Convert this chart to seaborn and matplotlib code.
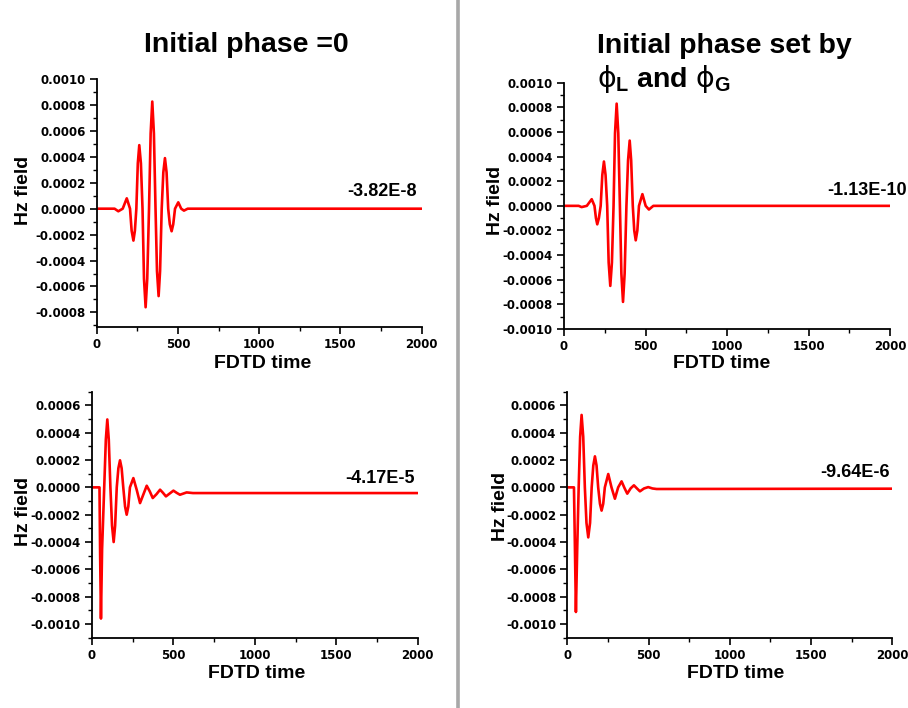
import numpy as np
import matplotlib
matplotlib.use("Agg")
import matplotlib.pyplot as plt
import seaborn as sns
from matplotlib.ticker import AutoMinorLocator, FuncFormatter, MultipleLocator
from matplotlib.lines import Line2D

# ---------------- data ----------------
# top-left: initial phase = 0, source signal
t_tl = [0, 110, 133, 160, 185, 205, 215, 226, 235, 244, 253, 262, 272, 282, 291,
        301, 311, 322, 332, 342, 352, 362, 371, 381, 390, 400, 410, 420, 430,
        440, 450, 461, 471, 482, 502, 520, 537, 560, 2000]
h_tl = [0, 0, -0.00002, 0, 0.00008, 0, -0.00017, -0.000246, -0.00017, 0,
        0.00035, 0.00049, 0.00035, 0, -0.00054, -0.00076, -0.00054, 0, 0.00058,
        0.000826, 0.00058, 0, -0.00048, -0.000674, -0.00048, 0, 0.00028,
        0.00039, 0.00028, 0, -0.00012, -0.000174, -0.00012, 0, 0.000049, 0,
        -0.000015, 0, -3.82e-8]

# top-right: initial phase set by phi_L and phi_G, source signal
t_tr = [0, 90, 108, 140, 170, 187, 196, 204, 214, 225, 235, 245, 255, 265, 274,
        284, 294, 304, 313, 323, 333, 343, 352, 362, 372, 383, 393, 403, 412,
        422, 431, 440, 450, 460, 481, 501, 521, 548, 2000]
h_tr = [0, 0, -0.00001, 0, 0.000054, 0, -0.0001, -0.00015, -0.0001, 0, 0.00025,
        0.00036, 0.00025, 0, -0.00046, -0.00065, -0.00046, 0, 0.00059, 0.00083,
        0.00059, 0, -0.00055, -0.00078, -0.00055, 0, 0.00037, 0.00053, 0.00037,
        0, -0.0002, -0.00028, -0.0002, 0, 0.000095, 0, -0.00003, 0, -1.13e-10]

# bottom-left: initial phase = 0, response
t_bl = [0, 46, 50, 55, 62, 75, 85, 94, 103, 113, 123, 133, 142, 152, 162, 172,
        182, 192, 203, 213, 223, 233, 254, 275, 295, 316, 336, 355, 373, 396,
        418, 436, 454, 477, 500, 520, 540, 581, 620, 2000]
h_bl = [0, 0, -0.0005, -0.00096, -0.00045, 0, 0.00035, 0.000497, 0.00035, 0,
        -0.00028, -0.0004, -0.00028, 0, 0.00014, 0.000198, 0.00014, 0, -0.00014,
        -0.0002, -0.00014, 0, 0.000068, -0.00002, -0.000115, -0.00005, 0.000012,
        -0.00003, -0.000078, -0.00005, -0.000017, -0.00004, -0.000066,
        -0.000045, -0.000024, -0.00004, -0.000054, -0.000037, -0.0000417,
        -0.0000417]

# bottom-right: initial phase set by phi_L and phi_G, response
t_br = [0, 41, 47, 53, 61, 70, 79, 88, 98, 108, 118, 129, 140, 150, 160, 170,
        180, 190, 201, 211, 221, 231, 252, 272, 293, 313, 334, 352, 369, 390,
        410, 428, 447, 472, 498, 524, 550, 2000]
h_br = [0, 0, -0.00045, -0.000912, -0.00045, 0, 0.00037, 0.00053, 0.00037, 0,
        -0.00026, -0.000366, -0.00026, 0, 0.00016, 0.000227, 0.00016, 0,
        -0.00012, -0.00017, -0.00012, 0, 0.0000976, 0, -0.000083, 0, 0.000044,
        -0.000005, -0.000046, -0.000007, 0.000015, -0.000007, -0.000029,
        -0.000008, 0.000002, -0.000008, -0.000012, -0.00000964]

final_labels = ["-3.82E-8", "-1.13E-10", "-4.17E-5", "-9.64E-6"]
titles = ["Initial phase =0", "Initial phase set by"]
x_ticks = [0, 500, 1000, 1500, 2000]

# ---------------- styling ----------------
sns.set_style("ticks")
plt.rcParams["font.family"] = ["Liberation Sans", "DejaVu Sans"]
plt.rcParams["text.color"] = "black"
plt.rcParams["axes.labelcolor"] = "black"
plt.rcParams["xtick.color"] = "black"
plt.rcParams["ytick.color"] = "black"
plt.rcParams["mathtext.fontset"] = "custom"
plt.rcParams["mathtext.rm"] = "Liberation Sans"
plt.rcParams["mathtext.bf"] = "Liberation Sans:bold"
plt.rcParams["mathtext.it"] = "DejaVu Sans"

W, H = 908, 708
fig = plt.figure(figsize=(W / 100, H / 100), dpi=100)


def rect(left, top, right, bottom):
    return [left / W, 1 - bottom / H, (right - left) / W, (bottom - top) / H]


panels = [
    dict(t=t_tl, h=h_tl, pos=rect(96.7, 79, 421.7, 326.7), ylim=(-0.00091, 0.0010),
         yt=(-0.0008, 0.0010), lab=final_labels[0], lx=1972, ly=0.000134,
         xl=(0.509, -0.147), yl=(-73.7 / 325, 0.549)),
    dict(t=t_tr, h=h_tr, pos=rect(564, 82.7, 890, 329), ylim=(-0.0010, 0.0010),
         yt=(-0.0010, 0.0010), lab=final_labels[1], lx=2105, ly=0.000122,
         xl=(0.484, -0.139), yl=(-68 / 326, 0.52)),
    dict(t=t_bl, h=h_bl, pos=rect(92, 391.7, 417.7, 637.7), ylim=(-0.0011, 0.0007),
         yt=(-0.0010, 0.0006), lab=final_labels[2], lx=1983, ly=0.000064,
         xl=(0.506, -0.145), yl=(-69 / 325.7, 0.512)),
    dict(t=t_br, h=h_br, pos=rect(567.3, 391.7, 892.3, 637.7), ylim=(-0.0011, 0.0007),
         yt=(-0.0010, 0.0006), lab=final_labels[3], lx=1986, ly=0.000112,
         xl=(0.5175, -0.145), yl=(-66.6 / 325, 0.533)),
]

fmt = FuncFormatter(lambda v, p: "0.0000" if abs(v) < 1e-10 else f"{v:.4f}")

for p in panels:
    ax = fig.add_axes(p["pos"])
    df = {"t": p["t"], "h": p["h"]}
    sns.lineplot(x="t", y="h", data=df, ax=ax, color="#FF0000", linewidth=1.9,
                 estimator=None, sort=False)
    ax.set_xlim(0, 2000)
    ax.set_ylim(*p["ylim"])
    ax.set_xticks(x_ticks)
    ax.xaxis.set_minor_locator(AutoMinorLocator(2))
    lo, hi = p["yt"]
    n = int(round((hi - lo) / 0.0002)) + 1
    ax.set_yticks([lo + i * 0.0002 for i in range(n)])
    ax.yaxis.set_minor_locator(MultipleLocator(0.0001))
    ax.yaxis.set_major_formatter(fmt)
    ax.tick_params(which="major", direction="out", length=5, width=1.2,
                   labelsize=8.5, pad=3, colors="black")
    ax.tick_params(which="minor", direction="out", length=3, width=1.0)
    for lbl in ax.get_xticklabels() + ax.get_yticklabels():
        lbl.set_fontfamily("DejaVu Sans")
        lbl.set_fontweight("bold")
    sns.despine(ax=ax)
    for s in ("left", "bottom"):
        ax.spines[s].set_linewidth(1.3)
        ax.spines[s].set_color("black")
    ax.set_xlabel("FDTD time", fontsize=14, fontweight="bold")
    ax.set_ylabel("Hz field", fontsize=14, fontweight="bold")
    ax.xaxis.set_label_coords(*p["xl"])
    ax.yaxis.set_label_coords(*p["yl"])
    ax.xaxis.label.set_va("center")
    ax.yaxis.label.set_va("center")
    ax.text(p["lx"], p["ly"], p["lab"], ha="right", va="center", fontsize=13,
            fontweight="bold", clip_on=False)

# titles
fig.text(246 / W, 1 - 52 / H, titles[0], ha="center", va="baseline",
         fontsize=20.5, fontweight="bold")
fig.text(597 / W, 1 - 53 / H, titles[1], ha="left", va="baseline",
         fontsize=20.5, fontweight="bold")
fig.text(597 / W, 1 - 87 / H, r"$\phi_{\mathbf{L}}$ and $\phi_{\mathbf{G}}$",
         ha="left", va="baseline", fontsize=20.5, fontweight="bold")

# vertical divider
fig.add_artist(Line2D([458 / W, 458 / W], [0, 1], transform=fig.transFigure,
                      color="#A8A8A8", linewidth=2.6))

fig.savefig("out.png", dpi=100)
